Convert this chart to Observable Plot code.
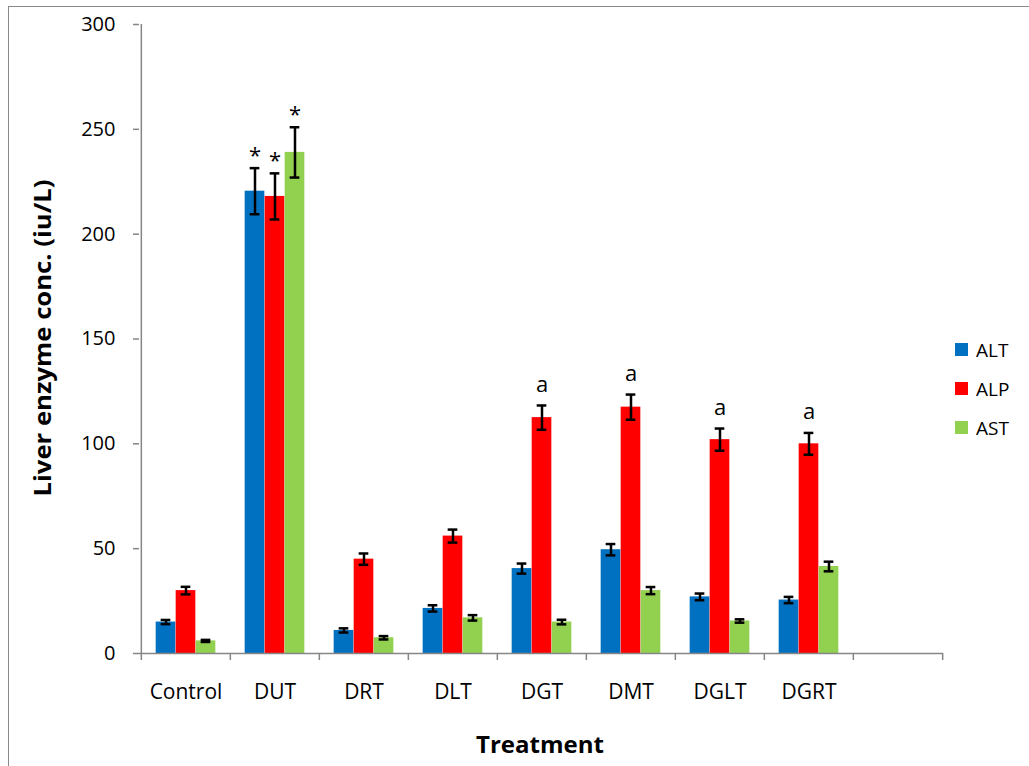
<!DOCTYPE html>
<html>
<head>
<meta charset="utf-8">
<script src="https://cdn.jsdelivr.net/npm/d3@7"></script>
<script src="https://cdn.jsdelivr.net/npm/@observablehq/plot@0.6"></script>
<style>
  html, body { margin: 0; padding: 0; background: #fff; }
  #wrap { position: relative; width: 1029px; height: 766px; overflow: hidden; font-family: "Open Sans", sans-serif; }
  #border { position: absolute; left: 8px; top: 6px; width: 1100px; height: 900px; border: 1.5px solid #8a8a8a; box-sizing: border-box; pointer-events: none; }
  #legend { position: absolute; left: 955px; top: 330px; font-size: 19px; color: #000; }
  #legend .item { display: flex; align-items: center; height: 39px; }
  #legend .sw { width: 13px; height: 13px; margin-right: 8px; }
</style>
</head>
<body>
<div id="wrap"><div id="border"></div><div id="legend"></div></div>
<script>
const categories = ["Control", "DUT", "DRT", "DLT", "DGT", "DMT", "DGLT", "DGRT"];
const blankCategory = " ";
const series = ["ALT", "ALP", "AST"];
const seriesColors = ["#0070C0", "#FF0000", "#92D050"];

const altValues = [15, 220.5, 11, 21.5, 40.5, 49.5, 27, 25.5];
const altErrors = [1, 11, 1, 1.5, 2.4, 2.7, 1.6, 1.5];
const alpValues = [30, 218, 45, 56, 112.5, 117.5, 102, 100];
const alpErrors = [1.8, 11, 2.7, 3.1, 5.8, 6, 5.3, 5.2];
const astValues = [6, 239, 7.5, 17, 15, 30, 15.5, 41.5];
const astErrors = [0.5, 12, 0.8, 1.3, 1.1, 1.7, 0.8, 2.3];

const altMarks = ["", "*", "", "", "", "", "", ""];
const alpMarks = ["", "*", "", "", "a", "a", "a", "a"];
const astMarks = ["", "*", "", "", "", "", "", ""];

const yTicks = [0, 50, 100, 150, 200, 250, 300];
const yLabel = "Liver enzyme conc. (iu/L)";
const xLabel = "Treatment";

const valuesBySeries = [altValues, alpValues, astValues];
const errorsBySeries = [altErrors, alpErrors, astErrors];
const marksBySeries = [altMarks, alpMarks, astMarks];

const rows = [];
series.forEach((s, i) => {
  categories.forEach((c, j) => {
    rows.push({category: c, series: s, value: valuesBySeries[i][j], err: errorsBySeries[i][j], mark: marksBySeries[i][j]});
  });
});

const W = 1029, H = 766;
const mL = 139, mR = 86, mT = 24, mB = 113;
const xDomain = [...categories, blankCategory];
const bw = (W - mL - mR) / xDomain.length;
const barW = 20;
const groupW = barW * series.length;
const pad = (bw - groupW) / 2;
const axisGray = "#868686";

const marks = [];
series.forEach((s, i) => {
  const data = rows.filter(d => d.series === s);
  const off = (i - (series.length - 1) / 2) * barW;
  marks.push(Plot.barY(data, {
    x: "category", y: "value", fill: seriesColors[i],
    insetLeft: pad + barW * i, insetRight: bw - pad - barW * (i + 1)
  }));
});
series.forEach((s, i) => {
  const data = rows.filter(d => d.series === s);
  const off = (i - (series.length - 1) / 2) * barW;
  marks.push(Plot.ruleX(data, {x: "category", y1: d => d.value - d.err, y2: d => d.value + d.err, dx: off, stroke: "black", strokeWidth: 2.5}));
  for (const acc of [d => d.value - d.err, d => d.value + d.err]) {
    marks.push(Plot.tickY(data, {x: "category", y: acc, dx: off, insetLeft: bw / 2 - 5, insetRight: bw / 2 - 5, stroke: "black", strokeWidth: 2.5}));
  }
  marks.push(Plot.text(data.filter(d => d.mark === "a"), {x: "category", y: d => d.value + d.err, text: "mark", dx: off, dy: -21, fontSize: 22, fill: "black"}));
  marks.push(Plot.text(data.filter(d => d.mark === "*"), {x: "category", y: d => d.value + d.err, text: "mark", dx: off, dy: -12, fontSize: 22, fill: "black"}));
});

// axes
marks.push(Plot.ruleY([0], {stroke: axisGray, strokeWidth: 1.5}));
marks.push(Plot.ruleX([categories[0]], {x: d => d, y1: 0, y2: yTicks[yTicks.length - 1], dx: -bw / 2, stroke: axisGray, strokeWidth: 1.5}));
marks.push(Plot.ruleX(xDomain, {x: d => d, y1: 0, y2: 0, dx: -bw / 2, insetBottom: -7, stroke: axisGray, strokeWidth: 1.5}));
marks.push(Plot.ruleX([blankCategory], {x: d => d, y1: 0, y2: 0, dx: bw / 2, insetBottom: -7, stroke: axisGray, strokeWidth: 1.5}));
marks.push(Plot.axisY({ticks: yTicks, tickSize: 6, tickPadding: 18, fontSize: 20, stroke: axisGray, strokeWidth: 1.5, fill: "black", label: null}));
marks.push(Plot.axisX({tickSize: 0, tickPadding: 31, fontSize: 21, fill: "black", label: null, tickFormat: d => d.trim()}));

const chart = Plot.plot({
  width: W, height: H,
  marginLeft: mL, marginRight: mR, marginTop: mT, marginBottom: mB,
  style: {fontFamily: "'Open Sans', sans-serif", background: "transparent", overflow: "visible"},
  x: {domain: xDomain, padding: 0, axis: null},
  y: {domain: [0, 300], axis: null},
  marks
});

const wrap = document.getElementById("wrap");
chart.style.position = "absolute";
chart.style.left = "0px";
chart.style.top = "0px";
wrap.insertBefore(chart, wrap.firstChild);

const svg = d3.select(chart);
svg.append("text")
  .attr("transform", "translate(51,338) rotate(-90)")
  .attr("text-anchor", "middle")
  .attr("font-family", "'Open Sans', sans-serif")
  .attr("font-weight", "bold")
  .attr("font-size", 23)
  .attr("textLength", 317)
  .attr("lengthAdjust", "spacingAndGlyphs")
  .attr("fill", "black")
  .text(yLabel);
svg.append("text")
  .attr("x", 540).attr("y", 753)
  .attr("text-anchor", "middle")
  .attr("font-family", "'Open Sans', sans-serif")
  .attr("font-weight", "bold")
  .attr("font-size", 23)
  .attr("textLength", 128)
  .attr("lengthAdjust", "spacingAndGlyphs")
  .attr("fill", "black")
  .text(xLabel);

const legend = d3.select("#legend");
series.forEach((s, i) => {
  const item = legend.append("div").attr("class", "item");
  item.append("div").attr("class", "sw").style("background", seriesColors[i]);
  item.append("span").text(s);
});
</script>
</body>
</html>
